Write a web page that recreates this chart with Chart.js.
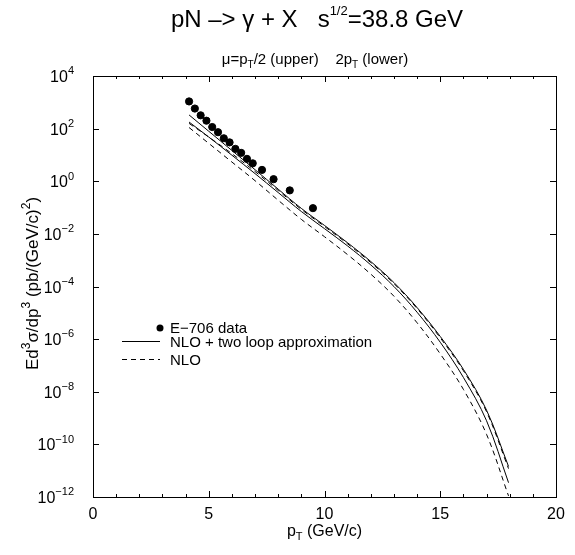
<!DOCTYPE html>
<html>
<head>
<meta charset="utf-8">
<script src="https://cdn.jsdelivr.net/npm/chart.js@4.4.1/dist/chart.umd.min.js"></script>
<style>
html, body { margin: 0; padding: 0; background: #fff; }
</style>
</head>
<body>
<canvas id="myChart" width="575" height="555"></canvas>
<script>
// E-706 data points
const e706X = [4.15, 4.4, 4.65, 4.9, 5.15, 5.4, 5.65, 5.9, 6.15, 6.4, 6.65, 6.9, 7.3, 7.8, 8.5, 9.5];
const e706Y = [1080, 580, 320, 200, 115, 73, 43, 30, 17, 12, 7.1, 4.8, 2.7, 1.2, 0.45, 0.095];

// theory curves (pT grid shared by all four)
const theoryX = [4.15, 5, 6, 7, 8, 9, 10, 11, 12, 13, 14, 15, 16, 17, 17.95];
// NLO + two loop, mu = pT/2 (upper) and 2pT (lower)
const loopUpper = [331, 79.4, 14.8, 2.75, 0.50, 0.093, 0.0209, 4.57e-3, 8.9e-4, 1.41e-4, 1.58e-5, 1.26e-6, 7.1e-8, 2.0e-9, 1.45e-11];
const loopLower = [178, 47.9, 9.77, 1.95, 0.372, 0.0708, 0.0158, 3.47e-3, 6.6e-4, 1.0e-4, 1.05e-5, 7.6e-7, 3.5e-8, 7.9e-10, 3.5e-12];
// NLO only
const nloUpper = [158, 47.9, 11.2, 2.34, 0.447, 0.0851, 0.0191, 4.17e-3, 8.1e-4, 1.29e-4, 1.45e-5, 1.12e-6, 6.3e-8, 1.74e-9, 1.2e-11];
const nloLower = [110, 27.5, 5.37, 1.05, 0.19, 0.0355, 7.8e-3, 1.62e-3, 2.95e-4, 4.27e-5, 4.17e-6, 2.75e-7, 1.23e-8, 2.4e-10, 1.1e-12];

const xTicks = [0, 5, 10, 15, 20];
const yTickExps = [4, 2, 0, -2, -4, -6, -8, -10, -12];

const FONT = "'Liberation Sans', Arial, sans-serif";

function pts(xs, ys) {
	return xs.map((x, i) => ({ x: x, y: ys[i] }));
}

// draws a run of [text, kind] pieces, kind = n / sup / sub
function richText(c, parts, x, y, size, align, supScale) {
	const small = Math.round(size * (supScale || 0.68));
	let w = 0;
	parts.forEach(p => {
		c.font = (p[1] === "n" ? size : small) + "px " + FONT;
		w += c.measureText(p[0]).width;
	});
	let cx = align === "center" ? x - w / 2 : align === "right" ? x - w : x;
	c.textBaseline = "alphabetic";
	c.textAlign = "left";
	parts.forEach(p => {
		c.font = (p[1] === "n" ? size : small) + "px " + FONT;
		let dy = 0;
		if (p[1] === "sup") dy = -size * 0.48;
		if (p[1] === "sub") dy = size * 0.25;
		c.fillText(p[0], cx, y + dy);
		cx += c.measureText(p[0]).width;
	});
}

const decor = {
	id: "decor",
	afterDraw(chart) {
		const c = chart.ctx;
		const a = chart.chartArea;
		const xs = chart.scales.x;
		const ys = chart.scales.y;
		c.save();
		c.strokeStyle = "#000";
		c.fillStyle = "#000";
		c.lineWidth = 1;
		c.strokeRect(a.left + 0.5, a.top + 0.5, a.right - a.left, a.bottom - a.top);

		// ticks point inward on all four sides
		c.beginPath();
		for (let v = 0; v <= 20; v++) {
			const px = Math.round(xs.getPixelForValue(v)) + 0.5;
			const len = v % 5 === 0 ? 6 : 3;
			c.moveTo(px, a.bottom); c.lineTo(px, a.bottom - len);
			c.moveTo(px, a.top); c.lineTo(px, a.top + len);
		}
		yTickExps.forEach(e => {
			const py = Math.round(ys.getPixelForValue(Math.pow(10, e))) + 0.5;
			c.moveTo(a.left, py); c.lineTo(a.left + 6, py);
			c.moveTo(a.right, py); c.lineTo(a.right - 6, py);
		});
		c.stroke();

		// tick labels
		c.font = "16px " + FONT;
		c.textAlign = "center";
		c.textBaseline = "alphabetic";
		xTicks.forEach(v => {
			c.fillText(String(v), xs.getPixelForValue(v), a.bottom + 22);
		});
		yTickExps.forEach(e => {
			const py = ys.getPixelForValue(Math.pow(10, e));
			richText(c, [["10", "n"], [String(e).replace("-", "\u2212"), "sup"]], 74, py + 6, 16, "right");
		});

		// axis titles
		richText(c, [["p", "n"], ["T", "sub"], [" (GeV/c)", "n"]], (a.left + a.right) / 2, a.bottom + 39, 16, "center");
		c.save();
		c.translate(38, (a.top + a.bottom) / 2 - 3);
		c.rotate(-Math.PI / 2);
		richText(c, [["Ed", "n"], ["3", "sup"], ["\u03c3/dp", "n"], ["3", "sup"], [" (pb/(GeV/c)", "n"], ["2", "sup"], [")", "n"]], 0, 0, 17, "center");
		c.restore();

		// titles
		richText(c, [["pN \u2013> \u03b3 + X   s", "n"], ["1/2", "sup"], ["=38.8 GeV", "n"]], 317, 27, 24, "center", 0.55);
		richText(c, [["\u03bc=p", "n"], ["T", "sub"], ["/2 (upper)    2p", "n"], ["T", "sub"], [" (lower)", "n"]], 315, 64, 15, "center");

		// legend
		c.beginPath();
		c.arc(160, 328, 3.5, 0, Math.PI * 2);
		c.fill();
		c.beginPath();
		c.moveTo(122, 341.5); c.lineTo(160, 341.5);
		c.stroke();
		c.setLineDash([5, 4]);
		c.beginPath();
		c.moveTo(122, 359.5); c.lineTo(160, 359.5);
		c.stroke();
		c.setLineDash([]);
		c.font = "15px " + FONT;
		c.textAlign = "left";
		c.fillText("E\u2212706 data", 170, 333);
		c.fillText("NLO + two loop approximation", 170, 347);
		c.fillText("NLO", 170, 365);
		c.restore();
	}
};

function curve(label, ys, dash) {
	return {
		type: "line",
		label: label,
		data: pts(theoryX, ys),
		borderColor: "#000",
		borderWidth: 1,
		borderDash: dash,
		pointRadius: 0,
		tension: 0.35,
		fill: false,
	};
}

const ctx = document.getElementById("myChart").getContext("2d");
let myChart = new Chart(ctx, {
	type: "scatter",
	data: {
		datasets: [
			{
				label: "E-706 data",
				data: pts(e706X, e706Y),
				backgroundColor: "#000",
				borderColor: "#000",
				pointRadius: 3.6,
				pointHoverRadius: 3.6,
			},
			curve("NLO + two loop approximation (pT/2)", loopUpper, []),
			curve("NLO + two loop approximation (2pT)", loopLower, []),
			curve("NLO (pT/2)", nloUpper, [5, 4]),
			curve("NLO (2pT)", nloLower, [5, 4]),
		],
	},
	options: {
		responsive: false,
		animation: false,
		layout: { padding: { left: 93, right: 19, top: 76, bottom: 58 } },
		plugins: { legend: { display: false }, tooltip: { enabled: false } },
		scales: {
			x: { type: "linear", min: 0, max: 20, display: false },
			y: { type: "logarithmic", min: 1e-12, max: 1e4, display: false },
		},
	},
	plugins: [decor],
});
</script>
</body>
</html>
